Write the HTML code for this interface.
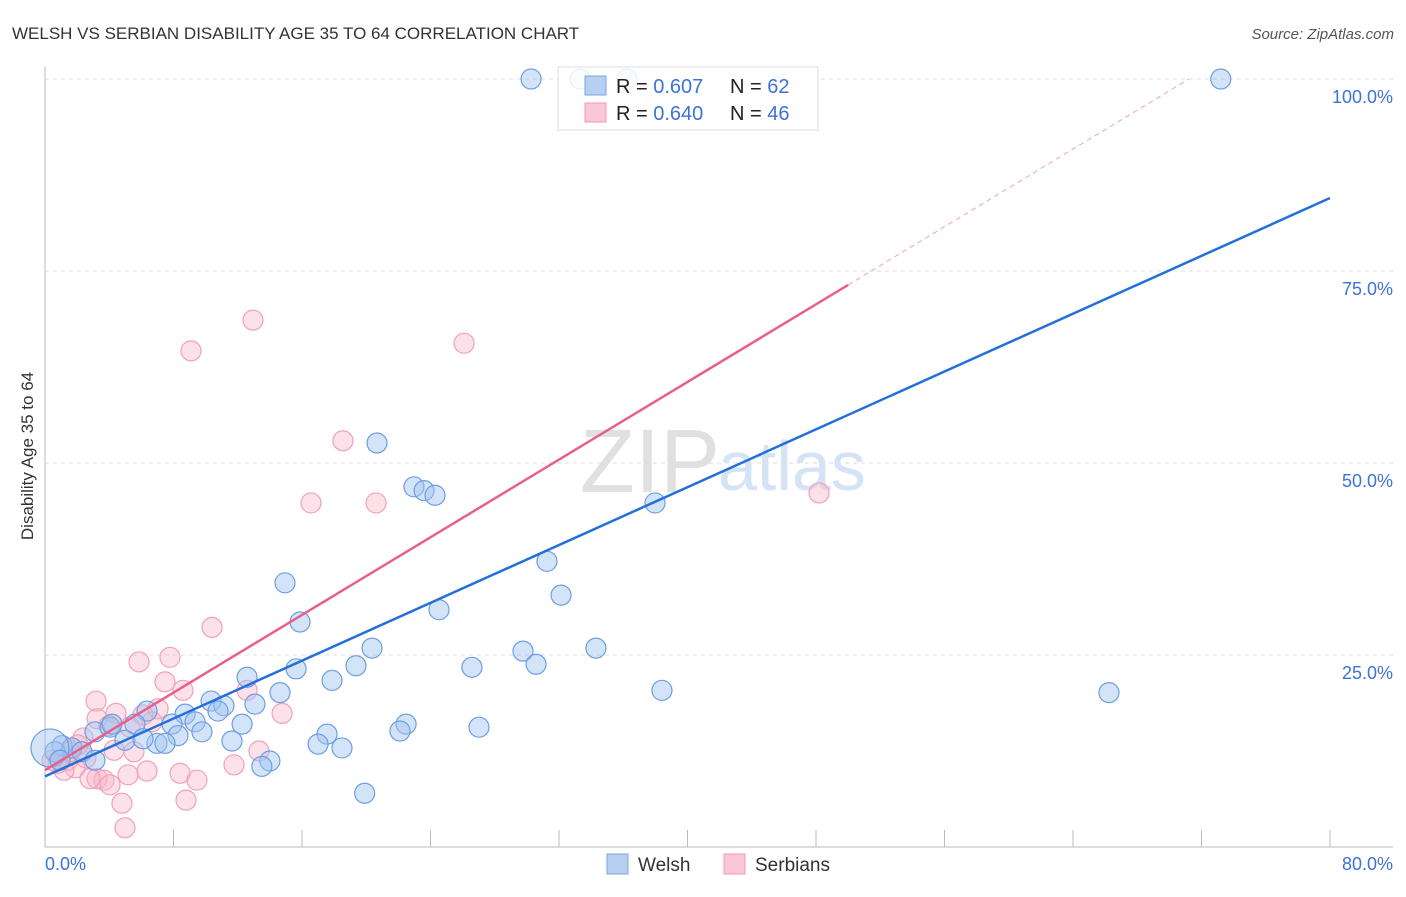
<!DOCTYPE html>
<html><head><meta charset="utf-8"><style>
body{margin:0;background:#fff;font-family:"Liberation Sans",sans-serif}
svg text{font-family:"Liberation Sans",sans-serif}
</style></head><body>
<svg id="chart" width="1406" height="892">
<text x="12" y="39" font-size="17" fill="#333">WELSH VS SERBIAN DISABILITY AGE 35 TO 64 CORRELATION CHART</text>
<text x="1394" y="39" font-size="15" fill="#555" font-style="italic" text-anchor="end">Source: ZipAtlas.com</text>
<text x="33" y="456" font-size="17" fill="#333" text-anchor="middle" transform="rotate(-90 33 456)">Disability Age 35 to 64</text>
<g id="grid"></g>
<text x="720" y="492" font-size="90" fill="#e0e0e0" text-anchor="end" font-family="Liberation Serif">ZIP</text>
<text x="718" y="490" font-size="70" fill="#d4e3f5">atlas</text>
<g id="pts"></g>
<g id="lines"></g>
<g>
<rect x="558" y="67" width="260" height="63" fill="#fff" fill-opacity="0.85" stroke="#ddd"/>
<rect x="585" y="76" width="21" height="19" fill="#b7d0f2" stroke="#7ba6e3"/>
<rect x="585" y="103" width="21" height="19" fill="#f9c6d5" stroke="#f09ab3"/>
<text x="616" y="93" font-size="20" fill="#222">R = <tspan fill="#3d72d6">0.607</tspan></text>
<text x="730" y="93" font-size="20" fill="#222">N = <tspan fill="#3d72d6">62</tspan></text>
<text x="616" y="120" font-size="20" fill="#222">R = <tspan fill="#3d72d6">0.640</tspan></text>
<text x="730" y="120" font-size="20" fill="#222">N = <tspan fill="#3d72d6">46</tspan></text>
</g>
<g>
<rect x="607" y="854" width="21" height="20" fill="#b7d0f2" stroke="#7ba6e3"/>
<text x="638" y="871" font-size="19" fill="#333">Welsh</text>
<rect x="724" y="854" width="21" height="20" fill="#f9c6d5" stroke="#f09ab3"/>
<text x="755" y="871" font-size="19" fill="#333">Serbians</text>
</g>
</svg>
<script>
const xTicks=[0,8,16,24,32,40,48,56,64,72,80];
const yTicks=[25,50,75,100];
const yTickLabels=["25.0%","50.0%","75.0%","100.0%"];
const xEndLabels=["0.0%","80.0%"];
const welshX=[30.26,33.31,36.24,73.2,20.67,22.97,23.6,24.28,37.98,31.25,32.13,14.94,24.53,15.88,20.36,29.76,30.57,34.3,26.58,19.36,15.63,17.87,12.58,38.41,66.24,14.63,10.34,13.07,11.14,8.72,10.77,6.35,7.91,9.34,12.27,5.6,9.77,17.56,22.48,27.02,22.1,3.11,4.05,8.28,11.64,17.0,18.49,4.98,6.97,7.47,6.1,1.06,1.68,2.3,0.62,0.31,14.0,13.5,19.9,3.11,0.93,4.17];
const welshY=[100,100,100,100,52.6,46.9,46.4,45.8,44.8,37.2,32.8,34.4,30.9,29.3,25.9,25.5,23.8,25.9,23.4,23.6,23.2,21.7,22.1,20.4,20.1,20.1,19.0,18.6,18.4,17.3,17.7,17.7,16.0,16.3,16.0,16.0,15.0,14.7,16.0,15.6,15.1,15.0,15.6,14.5,13.8,13.4,12.9,13.9,13.5,13.5,14.1,13.2,12.9,12.4,12.4,12.9,11.2,10.5,7.0,11.3,11.3,16.0];
const serbX=[12.95,9.09,26.09,18.55,16.56,20.61,48.19,10.4,5.85,7.78,7.47,8.59,12.58,3.18,7.04,4.42,3.24,14.76,3.98,6.66,5.29,6.1,2.37,13.32,4.3,5.54,2.55,1.43,1.87,0.81,0.44,6.35,5.17,8.41,11.77,3.24,3.67,2.8,9.46,4.05,4.79,8.78,4.98,1.56,1.18,2.05];
const serbY=[68.6,64.6,65.6,52.9,44.8,44.8,46.1,28.6,24.1,24.7,21.5,20.4,20.4,19.0,18.0,17.4,16.7,17.4,15.8,16.3,15.6,17.2,14.2,12.5,12.6,12.4,11.6,11.3,10.3,10.9,11.3,9.9,9.4,9.6,10.7,8.9,8.7,8.9,8.7,8.1,5.7,6.1,2.5,12.4,10.0,13.3];
const welshLine=[9.2,84.5];
const serbLine=[10.0,111.1];
const NS="http://www.w3.org/2000/svg";
const sx=v=>45+v*1285/80, sy=v=>847-v*7.68;
function mk(tag,attrs,parent){const e=document.createElementNS(NS,tag);for(const k in attrs)e.setAttribute(k,attrs[k]);parent.appendChild(e);return e;}
const grid=document.getElementById('grid');
yTicks.forEach((t,i)=>{
 const l=mk('line',{x1:45,x2:1393,y1:sy(t),y2:sy(t),stroke:'#ddd','stroke-dasharray':'4,4'},grid);
 
 
 const tx=mk('text',{x:1393,y:sy(t)+24,'font-size':18,fill:'#3d72d6','text-anchor':'end'},grid);
 tx.textContent=yTickLabels[i];
 
 
});
const ax=mk('line',{x1:45,x2:45,y1:67,y2:847,stroke:'#bbb'},grid);


const bx=mk('line',{x1:45,x2:1393,y1:847,y2:847,stroke:'#bbb'},grid);


xTicks.forEach(t=>{
 const l=mk('line',{x1:sx(t),x2:sx(t),y1:830,y2:847,stroke:'#bbb'},grid);
 
 
});
const xl0=mk('text',{x:45,y:870,'font-size':18,fill:'#3d72d6'},grid);xl0.textContent=xEndLabels[0];


const xl1=mk('text',{x:1393,y:870,'font-size':18,fill:'#3d72d6','text-anchor':'end'},grid);xl1.textContent=xEndLabels[1];


const pts=document.getElementById('pts');
serbX.forEach((x,i)=>{
 const c=mk('circle',{cx:sx(x),cy:sy(serbY[i]),r:10,fill:'rgba(248,180,200,0.4)',stroke:'#f2a0b8','stroke-width':1.2},pts);
 
 
});
welshX.forEach((x,i)=>{
 const big=(i===55);
 const c=mk('circle',{cx:sx(x),cy:sy(welshY[i]),r:big?19:10,fill:'rgba(160,196,240,0.45)',stroke:'#6d9de2','stroke-width':1.2},pts);
 
 
});
const lines=document.getElementById('lines');
const wl=mk('line',{x1:sx(0),y1:sy(welshLine[0]),x2:sx(80),y2:sy(welshLine[1]),stroke:'#2470d8','stroke-width':2.5},lines);


const slope=(serbLine[1]-serbLine[0])/80;
const xs=50, xe=(100-serbLine[0])/slope;
const sl=mk('line',{x1:sx(0),y1:sy(serbLine[0]),x2:sx(xs),y2:sy(serbLine[0]+slope*xs),stroke:'#e8608a','stroke-width':2.5},lines);


const sd=mk('line',{x1:sx(xs),y1:sy(serbLine[0]+slope*xs),x2:sx(xe),y2:sy(100),stroke:'#f0a0b8','stroke-width':1,'stroke-dasharray':'5,4'},lines);


</script>
</body></html>
